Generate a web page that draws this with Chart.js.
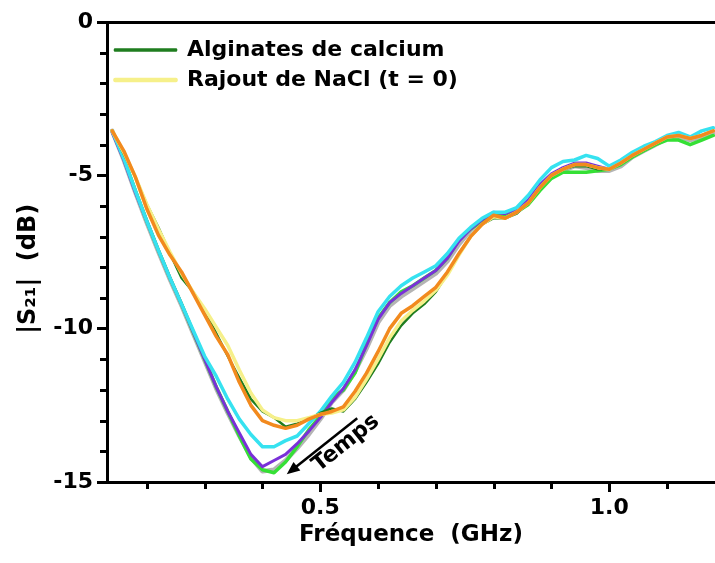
<!DOCTYPE html>
<html><head><meta charset="utf-8">
<script src="https://cdn.jsdelivr.net/npm/chart.js@4.4.1/dist/chart.umd.min.js"></script>
<style>html,body{margin:0;padding:0;background:#fff;overflow:hidden}canvas{display:block}</style>
</head><body>
<canvas id="c" width="715" height="563"></canvas>
<script>
// ---- data ----
const freq = [0.14,0.16,0.18,0.20,0.22,0.24,0.26,0.28,0.30,0.32,0.34,0.36,0.38,0.40,0.42,0.44,0.46,0.48,0.50,0.52,0.54,0.56,0.58,0.60,0.62,0.64,0.66,0.68,0.70,0.72,0.74,0.76,0.78,0.80,0.82,0.84,0.86,0.88,0.90,0.92,0.94,0.96,0.98,1.00,1.02,1.04,1.06,1.08,1.10,1.12,1.14,1.16,1.18];

const alginateCalcium = [-3.55,-4.3,-5.05,-5.95,-6.7,-7.55,-8.35,-8.8,-9.4,-10.15,-10.9,-11.6,-12.3,-12.7,-12.9,-13.2,-13.1,-12.95,-12.75,-12.6,-12.7,-12.3,-11.75,-11.15,-10.45,-9.9,-9.5,-9.2,-8.8,-8.2,-7.55,-7.0,-6.6,-6.4,-6.4,-6.25,-5.9,-5.4,-5.0,-4.8,-4.7,-4.7,-4.8,-4.8,-4.6,-4.35,-4.15,-3.95,-3.75,-3.7,-3.8,-3.7,-3.55];
const naclT0 = [-3.55,-4.25,-5.05,-5.95,-6.75,-7.5,-8.2,-8.8,-9.35,-9.95,-10.55,-11.35,-12.1,-12.65,-12.9,-13.0,-13.0,-12.9,-12.8,-12.75,-12.65,-12.25,-11.65,-11.0,-10.3,-9.75,-9.4,-9.1,-8.75,-8.25,-7.6,-7.0,-6.6,-6.35,-6.4,-6.2,-5.9,-5.4,-5.0,-4.8,-4.65,-4.65,-4.75,-4.8,-4.6,-4.35,-4.15,-3.95,-3.75,-3.7,-3.8,-3.7,-3.55];
const naclOrange = [-3.55,-4.2,-5.05,-6.1,-6.95,-7.6,-8.15,-8.85,-9.55,-10.25,-10.85,-11.75,-12.5,-13.0,-13.15,-13.25,-13.15,-12.95,-12.8,-12.7,-12.55,-12.05,-11.45,-10.75,-10.0,-9.5,-9.25,-8.95,-8.65,-8.15,-7.55,-7.0,-6.6,-6.3,-6.4,-6.2,-5.9,-5.4,-5.0,-4.8,-4.65,-4.65,-4.75,-4.8,-4.6,-4.35,-4.15,-3.95,-3.75,-3.7,-3.8,-3.7,-3.55];
const naclCyan = [-3.55,-4.45,-5.5,-6.5,-7.45,-8.35,-9.2,-10.05,-10.9,-11.55,-12.3,-12.95,-13.45,-13.85,-13.85,-13.65,-13.5,-13.1,-12.7,-12.2,-11.75,-11.1,-10.3,-9.45,-8.95,-8.6,-8.35,-8.15,-7.95,-7.55,-7.05,-6.7,-6.4,-6.2,-6.2,-6.05,-5.65,-5.15,-4.75,-4.55,-4.5,-4.35,-4.45,-4.7,-4.5,-4.25,-4.05,-3.9,-3.7,-3.6,-3.75,-3.55,-3.45];
const naclPurple = [-3.6,-4.5,-5.55,-6.5,-7.45,-8.35,-9.2,-10.1,-11.0,-11.9,-12.7,-13.4,-14.1,-14.5,-14.3,-14.1,-13.75,-13.35,-12.9,-12.4,-11.95,-11.35,-10.55,-9.7,-9.15,-8.85,-8.6,-8.35,-8.1,-7.7,-7.15,-6.75,-6.45,-6.2,-6.25,-6.1,-5.8,-5.3,-4.95,-4.75,-4.6,-4.6,-4.7,-4.8,-4.6,-4.35,-4.15,-3.95,-3.75,-3.7,-3.8,-3.7,-3.55];
const naclLime = [-3.55,-4.45,-5.5,-6.5,-7.45,-8.35,-9.2,-10.1,-11.0,-11.9,-12.7,-13.5,-14.25,-14.6,-14.7,-14.35,-13.85,-13.3,-12.85,-12.25,-12.0,-11.45,-10.5,-9.65,-9.15,-8.8,-8.6,-8.35,-8.1,-7.7,-7.1,-6.75,-6.5,-6.3,-6.35,-6.2,-5.95,-5.5,-5.1,-4.9,-4.9,-4.9,-4.85,-4.8,-4.65,-4.4,-4.2,-4.0,-3.85,-3.85,-4.0,-3.85,-3.7];
const naclGray = [-3.55,-4.5,-5.55,-6.55,-7.5,-8.4,-9.25,-10.15,-11.05,-11.95,-12.75,-13.5,-14.2,-14.65,-14.6,-14.3,-13.9,-13.45,-12.95,-12.4,-12.0,-11.4,-10.65,-9.8,-9.25,-8.95,-8.7,-8.45,-8.2,-7.8,-7.25,-6.8,-6.5,-6.25,-6.3,-6.15,-5.85,-5.4,-5.05,-4.85,-4.7,-4.75,-4.85,-4.85,-4.7,-4.4,-4.2,-4.0,-3.8,-3.75,-3.85,-3.75,-3.6];

const seriesLabels = ['Alginates de calcium', 'Rajout de NaCl (t = 0)', 'NaCl 2', 'NaCl 3', 'NaCl 4', 'NaCl 5', 'NaCl 6'];
const xMajorTicks = [0.5, 1.0];
const xMinorTicks = [0.2, 0.3, 0.4, 0.6, 0.7, 0.8, 0.9, 1.1];
const yMajorTicks = [-15, -10, -5, 0];
const yMinorTicks = [-1,-2,-3,-4,-6,-7,-8,-9,-11,-12,-13,-14];
const arrowFrom = {x: 0.564, y: -12.92};
const arrowTo = {x: 0.442, y: -14.75};
const arrowLabelAt = {x: 0.5445, y: -13.74};

// ---- styles ----
const FONT = '"DejaVu Sans", sans-serif';
const styles = [
  {color: '#1f7d1f', width: 2.5, order: 2},
  {color: '#f6f08a', width: 3.5, order: 1},
  {color: '#f28a1e', width: 3.5, order: 0},
  {color: '#36e2f0', width: 3.5, order: 3},
  {color: '#7a30d8', width: 3, order: 4},
  {color: '#35e035', width: 3.5, order: 5},
  {color: '#b4b4b4', width: 4.5, order: 6}
];
const seriesValues = [alginateCalcium, naclT0, naclOrange, naclCyan, naclPurple, naclLime, naclGray];

const datasets = seriesValues.map((vals, i) => ({
  label: seriesLabels[i],
  data: freq.map((f, k) => ({x: f, y: vals[k]})),
  borderColor: styles[i].color,
  backgroundColor: styles[i].color,
  borderWidth: styles[i].width,
  order: styles[i].order,
  pointRadius: 0,
  tension: 0,
  borderJoinStyle: 'round',
  borderCapStyle: 'round'
}));

const minorTicks = {
  id: 'minorTicks',
  afterDraw(chart) {
    const {ctx, chartArea, scales: {x, y}} = chart;
    ctx.save();
    ctx.strokeStyle = '#000';
    ctx.lineWidth = 3;
    ctx.beginPath();
    xMinorTicks.forEach(v => {
      const px = Math.round(x.getPixelForValue(v)) + 0.5;
      if (px < chartArea.left || px > chartArea.right) return;
      ctx.moveTo(px, chartArea.bottom);
      ctx.lineTo(px, chartArea.bottom + 7);
    });
    yMinorTicks.forEach(v => {
      const py = Math.round(y.getPixelForValue(v)) + 0.5;
      ctx.moveTo(chartArea.left, py);
      ctx.lineTo(chartArea.left - 7, py);
    });
    ctx.stroke();
    ctx.restore();
  }
};

const arrowNote = {
  id: 'arrowNote',
  afterDatasetsDraw(chart) {
    const {ctx, scales: {x, y}} = chart;
    const x1 = x.getPixelForValue(arrowFrom.x), y1 = y.getPixelForValue(arrowFrom.y);
    const x2 = x.getPixelForValue(arrowTo.x), y2 = y.getPixelForValue(arrowTo.y);
    const ang = Math.atan2(y2 - y1, x2 - x1);
    ctx.save();
    ctx.strokeStyle = '#000';
    ctx.fillStyle = '#000';
    ctx.lineWidth = 2.5;
    ctx.beginPath();
    ctx.moveTo(x1, y1);
    ctx.lineTo(x2 - 8 * Math.cos(ang), y2 - 8 * Math.sin(ang));
    ctx.stroke();
    ctx.beginPath();
    ctx.moveTo(x2, y2);
    ctx.lineTo(x2 - 13 * Math.cos(ang) + 5.5 * Math.sin(ang), y2 - 13 * Math.sin(ang) - 5.5 * Math.cos(ang));
    ctx.lineTo(x2 - 13 * Math.cos(ang) - 5.5 * Math.sin(ang), y2 - 13 * Math.sin(ang) + 5.5 * Math.cos(ang));
    ctx.closePath();
    ctx.fill();
    const tx = x.getPixelForValue(arrowLabelAt.x), ty = y.getPixelForValue(arrowLabelAt.y);
    ctx.translate(tx, ty);
    ctx.rotate(Math.atan2(y1 - y2, x1 - x2));
    ctx.font = 'bold 22px ' + FONT;
    ctx.textAlign = 'center';
    ctx.textBaseline = 'middle';
    ctx.fillText('Temps', 0, 0);
    ctx.restore();
  }
};

new Chart(document.getElementById('c'), {
  type: 'line',
  data: {datasets},
  plugins: [minorTicks, arrowNote],
  options: {
    responsive: false,
    animation: false,
    devicePixelRatio: 1,
    layout: {padding: {top: 22, right: 0, left: 0, bottom: 0}},
    plugins: {
      tooltip: {enabled: false},
      legend: {
        position: 'chartArea',
        align: 'start',
        title: {display: true, text: ' ', font: {size: 5}, padding: {top: 25, bottom: 0}},
        labels: {
          filter: item => item.datasetIndex < 2,
          sort: (a, b) => a.datasetIndex - b.datasetIndex,
          boxWidth: 61,
          boxHeight: 1,
          padding: 8,
          color: '#000',
          font: {family: FONT, size: 22, weight: 'bold'}
        }
      }
    },
    scales: {
      x: {
        type: 'linear', position: 'bottom', min: 0.131, max: 1.183,
        border: {display: true, color: '#000', width: 3},
        grid: {display: true, drawOnChartArea: false, drawTicks: true, tickLength: 10, tickWidth: 3, color: '#000'},
        afterBuildTicks: s => { s.ticks = xMajorTicks.map(v => ({value: v})); },
        afterFit: s => { s.height = 81; },
        ticks: {color: '#000', padding: 3, maxRotation: 0, font: {family: FONT, size: 22, weight: 'bold'},
          callback: v => Number(v).toFixed(1)},
        title: {display: true, text: 'Fréquence  (GHz)', color: '#000', padding: {top: 0, bottom: 14},
          font: {family: FONT, size: 23, weight: 'bold'}}
      },
      xTop: {
        type: 'linear', axis: 'x', position: 'top', min: 0.131, max: 1.183,
        border: {display: true, color: '#000', width: 3},
        grid: {display: false},
        ticks: {display: false},
        afterFit: s => { s.height = 0; }
      },
      y: {
        type: 'linear', position: 'left', min: -15, max: 0,
        border: {display: true, color: '#000', width: 3},
        grid: {display: true, drawOnChartArea: false, drawTicks: true, tickLength: 10, tickWidth: 3, color: '#000'},
        afterBuildTicks: s => { s.ticks = yMajorTicks.map(v => ({value: v})); },
        afterFit: s => { s.width = 107; },
        ticks: {color: '#000', padding: 4, font: {family: FONT, size: 22, weight: 'bold'},
          callback: v => String(v)},
        title: {display: true, text: '|S₂₁|  (dB)    ', color: '#000', padding: {top: 14, bottom: 0},
          font: {family: FONT, size: 24, weight: 'bold'}}
      }
    }
  }
});
</script>
</body></html>
